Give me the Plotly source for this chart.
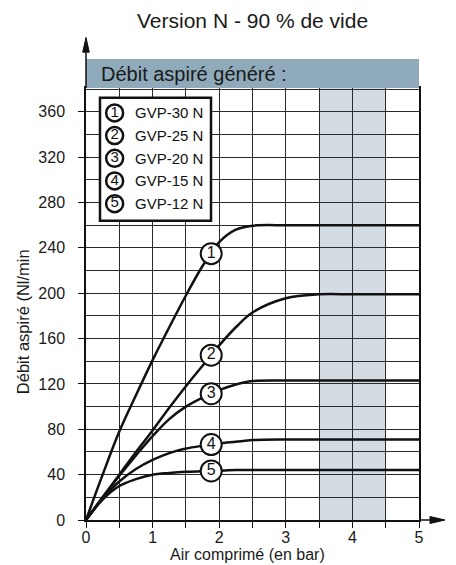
import numpy as np
import plotly.graph_objects as go

# ---- data ----
pressure = [0, 0.25, 0.5, 0.75, 1.0, 1.25, 1.5, 1.75, 2.0, 2.25, 2.5, 3.0, 3.5, 4.0, 4.5, 5.0]
gvp30 = [0, 40, 78, 110, 141, 170, 198, 224, 245, 256, 259.5, 260, 260, 260, 260, 260]
gvp25 = [0, 20, 40, 60, 79, 99, 118, 136, 154, 170, 183, 195.5, 199, 199, 199, 199]
gvp20 = [0, 20, 39, 57, 74, 89, 100, 108, 114.5, 119.5, 122.5, 123, 123, 123, 123, 123]
gvp15 = [0, 19, 34, 45, 53, 59, 63, 65.5, 67.5, 69, 70.5, 71, 71, 71, 71, 71]
gvp12 = [0, 18, 30, 36, 40, 41.5, 42.5, 43, 43.5, 44, 44, 44, 44, 44, 44, 44]
series = [gvp30, gvp25, gvp20, gvp15, gvp12]
numbers = ["1", "2", "3", "4", "5"]
names = ["GVP-30 N", "GVP-25 N", "GVP-20 N", "GVP-15 N", "GVP-12 N"]
x_ticks = [0, 1, 2, 3, 4, 5]
label_x = 1.88
band_range = [3.5, 4.5]

title = "Version N - 90 % de vide"
header = "Débit aspiré généré :"
y_title = "Débit aspiré (Nl/min"
x_title = "Air comprimé (en bar)"

FONT = "Liberation Sans, Arial, sans-serif"
INK = "#111111"
GRID = "#2b2b2b"

fig = go.Figure()

for s in series:
    fig.add_trace(go.Scatter(
        x=pressure, y=s, mode="lines",
        line=dict(color=INK, width=2.5, shape="spline", smoothing=1.0),
        showlegend=False, hoverinfo="skip"))

label_y = [float(np.interp(label_x, pressure, s)) for s in series]
fig.add_trace(go.Scatter(
    x=[label_x] * len(series), y=label_y, mode="markers+text", text=numbers,
    textposition="middle center",
    textfont=dict(family=FONT, size=16, color=INK),
    marker=dict(size=21, color="white", line=dict(color=INK, width=2)),
    showlegend=False, hoverinfo="skip", cliponaxis=False))

# custom legend
leg_rows = [359 - 20 * i for i in range(len(names))]
fig.add_trace(go.Scatter(
    x=[0.43] * len(names), y=leg_rows, mode="markers+text", text=numbers,
    textposition="middle center",
    textfont=dict(family=FONT, size=15, color=INK),
    marker=dict(size=17, color="white", line=dict(color=INK, width=2.5)),
    showlegend=False, hoverinfo="skip"))
for r, n in zip(leg_rows, names):
    fig.add_annotation(x=0.71, y=r, xref="x", yref="y", text=n, showarrow=False,
                       xanchor="left", yanchor="middle",
                       font=dict(family=FONT, size=15, color=INK))

shapes = [
    dict(type="rect", xref="x", yref="y", x0=band_range[0], x1=band_range[1], y0=0, y1=381,
         fillcolor="#D3DCE3", line=dict(width=0), layer="below"),
    dict(type="rect", xref="x", yref="y", x0=0.21, x1=1.877, y0=264, y1=372.4,
         fillcolor="white", line=dict(color=INK, width=2.5), layer="between"),
    dict(type="rect", xref="paper", yref="paper", x0=0, x1=1, y0=1.0, y1=1.067,
         fillcolor="#8FAABA", line=dict(width=0), layer="above"),
    # y axis arrow
    dict(type="line", xref="paper", yref="paper", x0=0, x1=0, y0=1.0, y1=1.09,
         line=dict(color=INK, width=1.5)),
    dict(type="path", xref="paper", yref="paper",
         path="M -0.0099 1.083 L 0 1.117 L 0.0099 1.083 Z",
         fillcolor=INK, line=dict(color=INK, width=1)),
    # x axis arrow
    dict(type="line", xref="paper", yref="paper", x0=1.0, x1=1.04, y0=0, y1=0,
         line=dict(color=INK, width=1.5)),
    dict(type="path", xref="paper", yref="paper",
         path="M 1.033 -0.0081 L 1.078 0 L 1.033 0.0081 Z",
         fillcolor=INK, line=dict(color=INK, width=1)),
]

fig.add_annotation(x=0.039, y=1.0335, xref="paper", yref="paper", text=header,
                   showarrow=False, xanchor="left", yanchor="middle",
                   font=dict(family=FONT, size=20, color="#1a1a1a"))
fig.add_annotation(x=0.5, y=1.157, xref="paper", yref="paper", text=title,
                   showarrow=False, xanchor="center", yanchor="middle",
                   font=dict(family=FONT, size=21, color="#1a1a1a"))
fig.add_annotation(x=-0.189, y=0.458, xref="paper", yref="paper", text=y_title,
                   showarrow=False, textangle=-90, xanchor="center", yanchor="middle",
                   font=dict(family=FONT, size=16.5, color="#1a1a1a"))
fig.add_annotation(x=0.485, y=-0.079, xref="paper", yref="paper", text=x_title,
                   showarrow=False, xanchor="center", yanchor="middle",
                   font=dict(family=FONT, size=16, color="#1a1a1a"))

fig.update_layout(
    width=456, height=565,
    margin=dict(l=86, r=37, t=88, b=45, pad=0),
    paper_bgcolor="white", plot_bgcolor="white",
    shapes=shapes, showlegend=False,
    font=dict(family=FONT, size=16, color="#1a1a1a"),
)
fig.update_xaxes(
    range=[0, 5], tickvals=x_ticks, ticktext=[str(v) for v in x_ticks],
    showgrid=True, gridcolor=GRID, gridwidth=1.3,
    ticks="outside", ticklen=6, tickcolor=INK, tickwidth=1.3,
    minor=dict(dtick=0.5, tick0=0, showgrid=True, gridcolor=GRID, gridwidth=1.3,
               ticks="outside", ticklen=6, tickcolor=INK, tickwidth=1.3),
    showline=True, linecolor=INK, linewidth=1.5, mirror=True, zeroline=False,
    ticklabelstandoff=-4,
    tickfont=dict(family=FONT, size=16, color="#1a1a1a"),
    fixedrange=True,
)
fig.update_yaxes(
    range=[0, 381], tick0=0, dtick=40,
    showgrid=True, gridcolor=GRID, gridwidth=1.3,
    ticks="outside", ticklen=6, tickcolor=INK, tickwidth=1.3,
    minor=dict(dtick=20, tick0=0, showgrid=True, gridcolor=GRID, gridwidth=1.3, ticks=""),
    showline=True, linecolor=INK, linewidth=1.5, mirror=True, zeroline=False,
    ticklabelstandoff=10,
    tickfont=dict(family=FONT, size=16, color="#1a1a1a"),
    fixedrange=True,
)

fig.write_html("out.html", config={"displayModeBar": False},
               post_script="document.body.style.margin='0';")
